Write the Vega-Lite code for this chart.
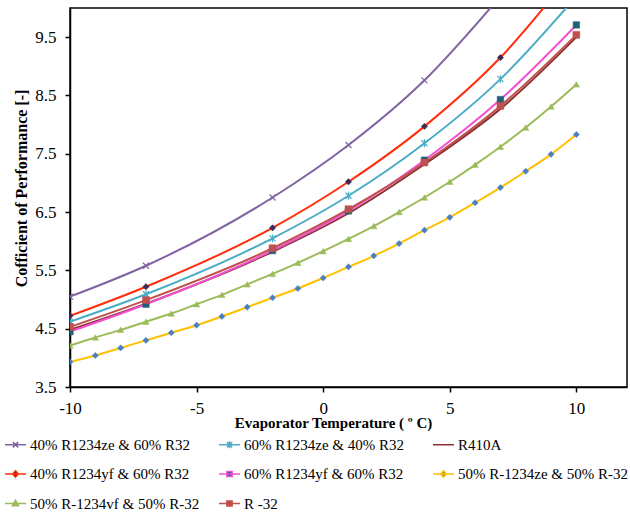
{
  "$schema": "https://vega.github.io/schema/vega-lite/v6.json",
  "width": 557,
  "height": 379,
  "autosize": "none",
  "padding": {"left": 70, "top": 8, "right": 3, "bottom": 127},
  "background": "white",
  "config": {
    "view": {"stroke": "black", "strokeWidth": 1.5},
    "font": "Liberation Serif"
  },
  "data": {
    "values": [
      {"series": "40% R1234ze & 60% R32", "T": -10, "COP": 5.05},
      {"series": "40% R1234ze & 60% R32", "T": -7, "COP": 5.58},
      {"series": "40% R1234ze & 60% R32", "T": -2, "COP": 6.75},
      {"series": "40% R1234ze & 60% R32", "T": 1, "COP": 7.65},
      {"series": "40% R1234ze & 60% R32", "T": 4, "COP": 8.76},
      {"series": "40% R1234ze & 60% R32", "T": 7, "COP": 10.2},
      {"series": "40% R1234ze & 60% R32", "T": 10, "COP": 11.8},

      {"series": "60% R1234ze & 40% R32", "T": -10, "COP": 4.62},
      {"series": "60% R1234ze & 40% R32", "T": -7, "COP": 5.09},
      {"series": "60% R1234ze & 40% R32", "T": -2, "COP": 6.05},
      {"series": "60% R1234ze & 40% R32", "T": 1, "COP": 6.78},
      {"series": "60% R1234ze & 40% R32", "T": 4, "COP": 7.68},
      {"series": "60% R1234ze & 40% R32", "T": 7, "COP": 8.78},
      {"series": "60% R1234ze & 40% R32", "T": 10, "COP": 10.2},

      {"series": "R410A", "T": -10, "COP": 4.48},
      {"series": "R410A", "T": -7, "COP": 4.93},
      {"series": "R410A", "T": -2, "COP": 5.82},
      {"series": "R410A", "T": 1, "COP": 6.48},
      {"series": "R410A", "T": 4, "COP": 7.32},
      {"series": "R410A", "T": 7, "COP": 8.27},
      {"series": "R410A", "T": 10, "COP": 9.5},

      {"series": "40% R1234yf & 60% R32", "T": -10, "COP": 4.72},
      {"series": "40% R1234yf & 60% R32", "T": -7, "COP": 5.22},
      {"series": "40% R1234yf & 60% R32", "T": -2, "COP": 6.23},
      {"series": "40% R1234yf & 60% R32", "T": 1, "COP": 7.02},
      {"series": "40% R1234yf & 60% R32", "T": 4, "COP": 7.97},
      {"series": "40% R1234yf & 60% R32", "T": 7, "COP": 9.15},
      {"series": "40% R1234yf & 60% R32", "T": 10, "COP": 10.7},

      {"series": "60% R1234yf & 60% R32", "T": -10, "COP": 4.45},
      {"series": "60% R1234yf & 60% R32", "T": -7, "COP": 4.92},
      {"series": "60% R1234yf & 60% R32", "T": -2, "COP": 5.84},
      {"series": "60% R1234yf & 60% R32", "T": 1, "COP": 6.52},
      {"series": "60% R1234yf & 60% R32", "T": 4, "COP": 7.39},
      {"series": "60% R1234yf & 60% R32", "T": 7, "COP": 8.43},
      {"series": "60% R1234yf & 60% R32", "T": 10, "COP": 9.71},

      {"series": "50% R-1234ze & 50% R-32", "T": -10, "COP": 3.93},
      {"series": "50% R-1234ze & 50% R-32", "T": -9, "COP": 4.04},
      {"series": "50% R-1234ze & 50% R-32", "T": -8, "COP": 4.17},
      {"series": "50% R-1234ze & 50% R-32", "T": -7, "COP": 4.30},
      {"series": "50% R-1234ze & 50% R-32", "T": -6, "COP": 4.43},
      {"series": "50% R-1234ze & 50% R-32", "T": -5, "COP": 4.56},
      {"series": "50% R-1234ze & 50% R-32", "T": -4, "COP": 4.71},
      {"series": "50% R-1234ze & 50% R-32", "T": -3, "COP": 4.87},
      {"series": "50% R-1234ze & 50% R-32", "T": -2, "COP": 5.03},
      {"series": "50% R-1234ze & 50% R-32", "T": -1, "COP": 5.19},
      {"series": "50% R-1234ze & 50% R-32", "T": 0, "COP": 5.37},
      {"series": "50% R-1234ze & 50% R-32", "T": 1, "COP": 5.56},
      {"series": "50% R-1234ze & 50% R-32", "T": 2, "COP": 5.75},
      {"series": "50% R-1234ze & 50% R-32", "T": 3, "COP": 5.96},
      {"series": "50% R-1234ze & 50% R-32", "T": 4, "COP": 6.19},
      {"series": "50% R-1234ze & 50% R-32", "T": 5, "COP": 6.41},
      {"series": "50% R-1234ze & 50% R-32", "T": 6, "COP": 6.66},
      {"series": "50% R-1234ze & 50% R-32", "T": 7, "COP": 6.92},
      {"series": "50% R-1234ze & 50% R-32", "T": 8, "COP": 7.20},
      {"series": "50% R-1234ze & 50% R-32", "T": 9, "COP": 7.49},
      {"series": "50% R-1234ze & 50% R-32", "T": 10, "COP": 7.83},

      {"series": "50% R-1234vf &  50% R-32", "T": -10, "COP": 4.21},
      {"series": "50% R-1234vf &  50% R-32", "T": -9, "COP": 4.35},
      {"series": "50% R-1234vf &  50% R-32", "T": -8, "COP": 4.48},
      {"series": "50% R-1234vf &  50% R-32", "T": -7, "COP": 4.62},
      {"series": "50% R-1234vf &  50% R-32", "T": -6, "COP": 4.76},
      {"series": "50% R-1234vf &  50% R-32", "T": -5, "COP": 4.92},
      {"series": "50% R-1234vf &  50% R-32", "T": -4, "COP": 5.08},
      {"series": "50% R-1234vf &  50% R-32", "T": -3, "COP": 5.26},
      {"series": "50% R-1234vf &  50% R-32", "T": -2, "COP": 5.44},
      {"series": "50% R-1234vf &  50% R-32", "T": -1, "COP": 5.63},
      {"series": "50% R-1234vf &  50% R-32", "T": 0, "COP": 5.83},
      {"series": "50% R-1234vf &  50% R-32", "T": 1, "COP": 6.04},
      {"series": "50% R-1234vf &  50% R-32", "T": 2, "COP": 6.26},
      {"series": "50% R-1234vf &  50% R-32", "T": 3, "COP": 6.50},
      {"series": "50% R-1234vf &  50% R-32", "T": 4, "COP": 6.75},
      {"series": "50% R-1234vf &  50% R-32", "T": 5, "COP": 7.02},
      {"series": "50% R-1234vf &  50% R-32", "T": 6, "COP": 7.31},
      {"series": "50% R-1234vf &  50% R-32", "T": 7, "COP": 7.62},
      {"series": "50% R-1234vf &  50% R-32", "T": 8, "COP": 7.95},
      {"series": "50% R-1234vf &  50% R-32", "T": 9, "COP": 8.31},
      {"series": "50% R-1234vf &  50% R-32", "T": 10, "COP": 8.69},

      {"series": "R -32", "T": -10, "COP": 4.53},
      {"series": "R -32", "T": -7, "COP": 4.99},
      {"series": "R -32", "T": -2, "COP": 5.88},
      {"series": "R -32", "T": 1, "COP": 6.55},
      {"series": "R -32", "T": 4, "COP": 7.35},
      {"series": "R -32", "T": 7, "COP": 8.32},
      {"series": "R -32", "T": 10, "COP": 9.54}
    ]
  },
  "encoding": {
    "x": {
      "field": "T",
      "type": "quantitative",
      "scale": {"domain": [-10, 12], "nice": false, "zero": false},
      "axis": {
        "values": [-10, -5, 0, 5, 10],
        "labelExpr": "datum.value + ''",
        "title": "Evaporator Temperature ( º C)",
        "grid": false,
        "labelFont": "Liberation Serif",
        "labelFontSize": 17,
        "labelColor": "black",
        "labelPadding": 8,
        "labelFlush": false,
        "labelOverlap": false,
        "tickSize": 5,
        "tickColor": "black",
        "tickWidth": 1.5,
        "domainColor": "black",
        "domainWidth": 1.5,
        "titleFont": "Liberation Serif",
        "titleFontSize": 15,
        "titleFontWeight": "bold",
        "titleColor": "black",
        "titleX": 263,
        "titleY": 35,
        "titleBaseline": "middle",
        "titleAlign": "center"
      }
    },
    "y": {
      "field": "COP",
      "type": "quantitative",
      "scale": {"domain": [3.5, 10], "nice": false, "zero": false},
      "axis": {
        "values": [3.5, 4.5, 5.5, 6.5, 7.5, 8.5, 9.5],
        "format": ".1f",
        "title": "Cofficient of Performance [-]",
        "grid": false,
        "labelFont": "Liberation Serif",
        "labelFontSize": 17,
        "labelColor": "black",
        "labelPadding": 9,
        "labelOverlap": false,
        "labelFlush": false,
        "tickSize": 5,
        "tickColor": "black",
        "tickWidth": 1.5,
        "domainColor": "black",
        "domainWidth": 1.5,
        "titleFont": "Liberation Serif",
        "titleFontSize": 16,
        "titleFontWeight": "bold",
        "titleColor": "black",
        "titleX": -49,
        "titleY": 180,
        "titleAngle": -90,
        "titleBaseline": "middle",
        "titleAlign": "center"
      }
    }
  },
  "layer": [
    {
      "mark": {"type": "line", "interpolate": "monotone", "strokeWidth": 2, "clip": true},
      "encoding": {
        "color": {
          "field": "series",
          "type": "nominal",
          "sort": null,
          "scale": {
            "domain": ["40% R1234ze & 60% R32", "60% R1234ze & 40% R32", "R410A", "40% R1234yf & 60% R32", "60% R1234yf & 60% R32", "50% R-1234ze & 50% R-32", "50% R-1234vf &  50% R-32", "R -32"],
            "range": ["#8064A2", "#4BACC6", "#8E3131", "#FF2D0A", "#F34FD3", "#FFC000", "#9BBB59", "#C0504D"]
          },
          "legend": {
            "title": null,
            "orient": "none",
            "direction": "horizontal",
            "legendX": -62,
            "legendY": 429,
            "columns": 3,
            "gridAlign": "all",
            "columnPadding": 13,
            "rowPadding": 13.5,
            "padding": 0,
            "symbolSize": 110,
            "symbolStrokeWidth": 1.5,
            "labelOffset": 7,
            "labelFont": "Liberation Serif",
            "labelFontSize": 15,
            "labelColor": "black",
            "labelLimit": 300,
            "encode": {
              "symbols": {
                "update": {
                  "shape": {"signal": "['M-2,0H2M-0.5,-0.5L0.5,0.5M-0.5,0.5L0.5,-0.5', 'M-2,0H2M-0.5,-0.5L0.5,0.5M-0.5,0.5L0.5,-0.5M0,-0.65V0.65', 'M-2,0H2', 'M-2,0H2M0,-0.6L0.55,0L0,0.6L-0.55,0Z', 'M-2,0H2M-0.5,-0.5H0.5V0.5H-0.5Z', 'M-2,0H2M0,-0.6L0.55,0L0,0.6L-0.55,0Z', 'M-2,0H2M0,-0.6L0.6,0.45H-0.6Z', 'M-2,0H2M-0.5,-0.5H0.5V0.5H-0.5Z'][datum.index]"},
                  "fill": {"signal": "['transparent', 'transparent', 'transparent', '#3D2B56', '#1F6175', '#4A7EC2', '#9BBB59', '#C0504D'][datum.index]"},
                  "stroke": {"signal": "['#8064A2', '#4BACC6', '#8E3131', '#FF2D0A', '#F34FD3', '#FFC000', '#9BBB59', '#C0504D'][datum.index]"},
                  "strokeWidth": {"value": 1.5},
                  "size": {"value": 110},
                  "opacity": {"value": 1}
                }
              }
            }
          }
        }
      }
    },
    {
      "transform": [{"filter": "datum.series === '40% R1234ze & 60% R32'"}],
      "mark": {"type": "point", "shape": "M-1,-1L1,1M-1,1L1,-1", "filled": false, "stroke": "#8064A2", "strokeWidth": 1.2, "size": 36, "opacity": 1, "clip": true}
    },
    {
      "transform": [{"filter": "datum.series === '60% R1234ze & 40% R32'"}],
      "mark": {"type": "point", "shape": "M-1,-1L1,1M-1,1L1,-1M0,-1.3V1.3", "filled": false, "stroke": "#4BACC6", "strokeWidth": 1.2, "size": 36, "opacity": 1, "clip": true}
    },
    {
      "transform": [{"filter": "datum.series === '40% R1234yf & 60% R32'"}],
      "mark": {"type": "point", "shape": "diamond", "filled": true, "fill": "#3D2B56", "stroke": "#3D2B56", "strokeWidth": 0.5, "size": 40, "opacity": 1, "clip": true}
    },
    {
      "transform": [{"filter": "datum.series === '60% R1234yf & 60% R32'"}],
      "mark": {"type": "point", "shape": "square", "filled": true, "fill": "#1F6175", "stroke": "#1F6175", "strokeWidth": 0.5, "size": 42, "opacity": 1, "clip": true}
    },
    {
      "transform": [{"filter": "datum.series === '50% R-1234ze & 50% R-32'"}],
      "mark": {"type": "point", "shape": "diamond", "filled": true, "fill": "#4A7EC2", "stroke": "#4A7EC2", "strokeWidth": 0.5, "size": 38, "opacity": 1, "clip": true}
    },
    {
      "transform": [{"filter": "datum.series === '50% R-1234vf &  50% R-32'"}],
      "mark": {"type": "point", "shape": "triangle-up", "filled": true, "fill": "#9BBB59", "stroke": "#9BBB59", "strokeWidth": 0.5, "size": 40, "opacity": 1, "clip": true}
    },
    {
      "transform": [{"filter": "datum.series === 'R -32'"}],
      "mark": {"type": "point", "shape": "square", "filled": true, "fill": "#C0504D", "stroke": "#C0504D", "strokeWidth": 0.5, "size": 48, "opacity": 1, "clip": true}
    }
  ]
}
